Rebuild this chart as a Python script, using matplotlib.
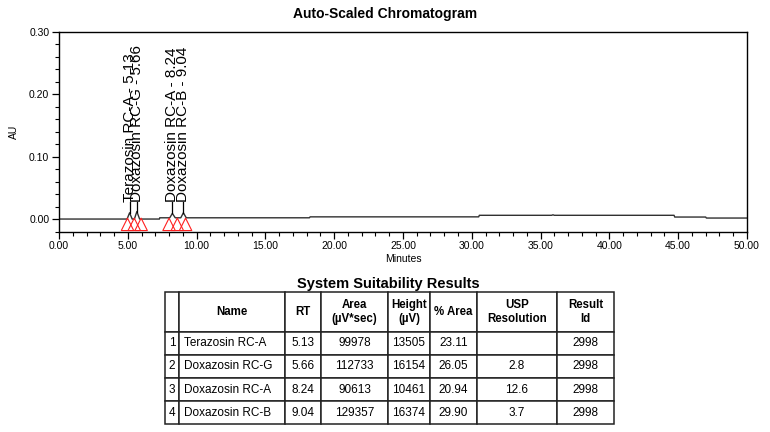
import matplotlib
matplotlib.use("Agg")
import matplotlib.pyplot as plt
import numpy as np

plt.rcParams["font.family"] = ["Liberation Sans", "DejaVu Sans"]

# chromatogram trace (minutes, AU)
trace_min = [0.0, 4.95, 5.13, 5.32, 5.48, 5.66, 5.86, 7.30, 7.32, 8.05, 8.24, 8.45,
             8.85, 9.04, 9.25, 18.20, 18.25, 30.50, 30.55, 35.80, 35.90, 36.00,
             44.70, 44.75, 47.00, 47.05, 50.00]
trace_au = [0.0, 0.0, 0.010, 0.0, 0.0, 0.012, 0.0, 0.0, 0.002, 0.002, 0.009, 0.002,
            0.002, 0.010, 0.002, 0.002, 0.0035, 0.0035, 0.006, 0.006, 0.0068, 0.006,
            0.006, 0.0032, 0.0032, 0.0016, 0.0016]

# integration start/end markers
marker_min = [4.98, 5.47, 5.97, 8.00, 8.60, 9.20]

# system suitability table
peak_no = ["1", "2", "3", "4"]
names = ["Terazosin RC-A", "Doxazosin RC-G", "Doxazosin RC-A", "Doxazosin RC-B"]
rt = [5.13, 5.66, 8.24, 9.04]
area = [99978, 112733, 90613, 129357]
height = [13505, 16154, 10461, 16374]
pct_area = [23.11, 26.05, 20.94, 29.90]
usp_res = ["", "2.8", "12.6", "3.7"]
result_id = [2998, 2998, 2998, 2998]
col_labels = ["", "Name", "RT", "Area\n(µV*sec)", "Height\n(µV)", "% Area",
              "USP\nResolution", "Result\nId"]

fig = plt.figure(figsize=(7.7, 4.32), dpi=100)
ax = fig.add_axes([0.0766, 0.4641, 0.8935, 0.4618])

ax.plot(trace_min, trace_au, color="#303030", lw=1.0)
ax.scatter(marker_min, [-0.0085] * len(marker_min), marker="^", s=80,
           facecolors="none", edgecolors="#ff2020", linewidths=0.8, zorder=3)

for name, t in zip(names, rt):
    top = np.interp(t, trace_min, trace_au)
    ax.plot([t, t], [top, 0.027], color="black", lw=0.9)
    ax.text(t, 0.028, f"{name} - {t:.2f}", rotation=90, ha="center", va="bottom",
            fontsize=11)

ax.set_xlim(0, 50)
ax.set_ylim(-0.02, 0.30)
ax.set_xticks(np.arange(0, 51, 5))
ax.set_xticks(np.arange(0, 51, 1), minor=True)
ax.set_yticks([0.0, 0.1, 0.2, 0.3])
ax.set_yticks(np.arange(-0.02, 0.301, 0.02), minor=True)
ax.xaxis.set_major_formatter(matplotlib.ticker.FormatStrFormatter("%.2f"))
ax.yaxis.set_major_formatter(matplotlib.ticker.FormatStrFormatter("%.2f"))
ax.tick_params(which="major", length=5, width=0.9, labelsize=7.5, pad=2)
ax.tick_params(which="minor", length=3, width=0.8)
ax.set_xlabel("Minutes", fontsize=7.5, labelpad=2)
ax.set_ylabel("AU", fontsize=7.5, labelpad=7)
for s in ax.spines.values():
    s.set_linewidth(1.0)

fig.text(0.5, 0.968, "Auto-Scaled Chromatogram", ha="center", va="center",
         fontsize=10, fontweight="bold")
fig.text(0.504, 0.343, "System Suitability Results", ha="center", va="center",
         fontsize=10.5, fontweight="bold")

# table
rows = []
for i in range(len(names)):
    rows.append([peak_no[i], names[i], f"{rt[i]:.2f}", str(area[i]), str(height[i]),
                 f"{pct_area[i]:.2f}", usp_res[i], str(result_id[i])])

col_px = [14, 106, 36, 67, 42, 47, 80, 57]
tax = fig.add_axes([0.2143, 0.0185, 0.5831, 0.3056])
tax.axis("off")
tbl = tax.table(cellText=rows, colLabels=col_labels, cellLoc="center",
                colWidths=[w / sum(col_px) for w in col_px], bbox=[0, 0, 1, 1])
tbl.auto_set_font_size(False)
for (r, c), cell in tbl.get_celld().items():
    cell.set_edgecolor("#222222")
    cell.set_linewidth(1.1)
    if r == 0:
        cell.set_height(40)
        cell.get_text().set_fontweight("bold")
        cell.get_text().set_fontsize(8.3)
    else:
        cell.set_height(23)
        cell.get_text().set_fontsize(8.5)
        if c == 1:
            cell._loc = "left"
            cell.PAD = 0.05
            cell.get_text().set_ha("left")

fig.savefig("out.png", dpi=100)
